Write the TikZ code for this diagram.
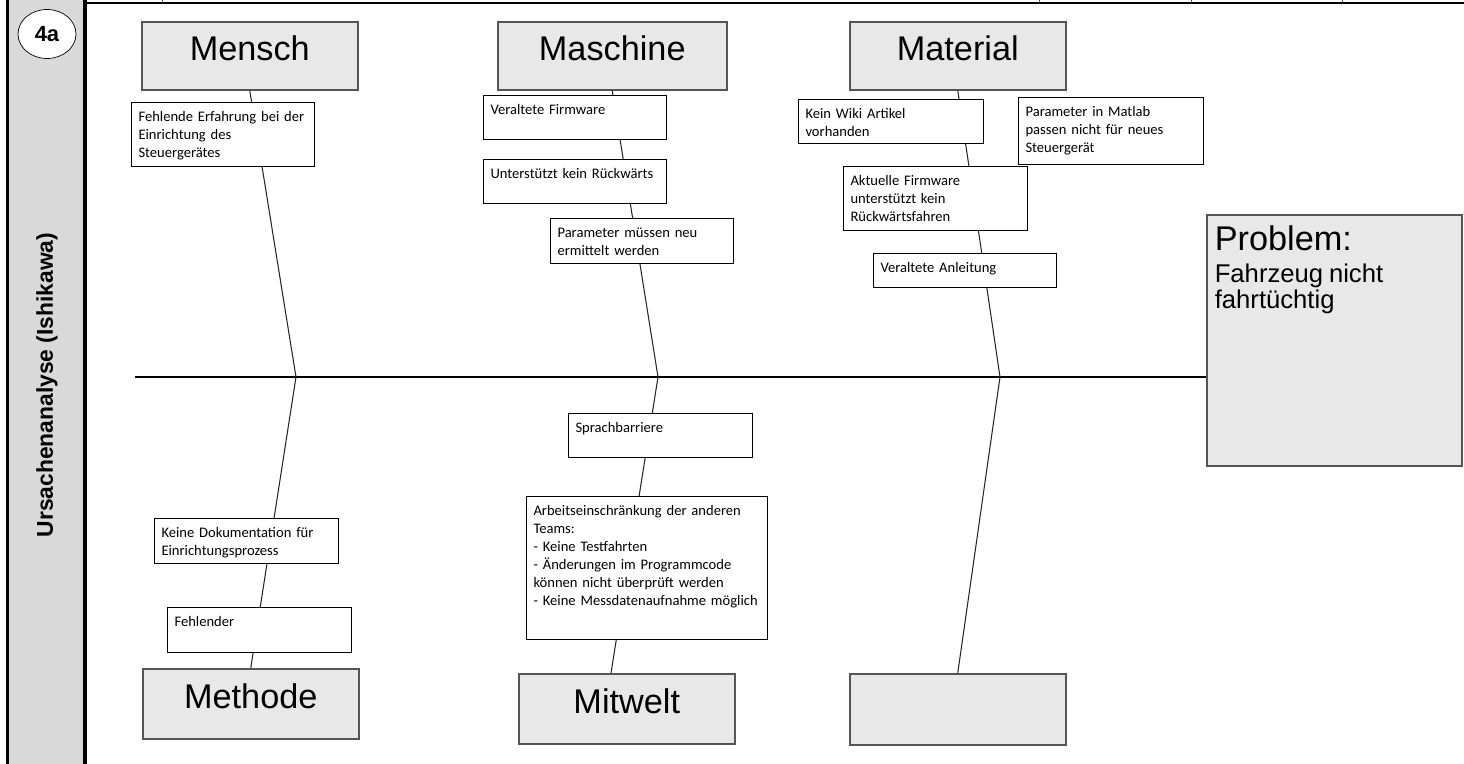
\documentclass[tikz,border=0pt]{standalone}
\usepackage{fontspec}
\setmainfont{Liberation Sans}
\newfontfamily\causefont{Carlito}
\usetikzlibrary{shapes.geometric}
\definecolor{boxGrey}{RGB}{232,232,232}
\definecolor{barGrey}{RGB}{217,217,217}
\definecolor{edgeGrey}{RGB}{85,85,85}

\begin{document}
\begin{tikzpicture}[x=0.02cm, y=-0.02cm,
   cat/.style={draw=edgeGrey, fill=boxGrey, line width=0.9pt, anchor=north west,
             inner sep=0pt, minimum width=4.32cm, minimum height=1.36cm,
             text height=0.52cm, text depth=0.32cm,
             font=\fontsize{19.5pt}{22pt}\selectfont},
   cause/.style={draw, fill=white, line width=0.6pt, anchor=north west, align=left,
             inner xsep=0.14cm, inner ysep=0.16cm, text width=3.4cm, text height=0.22cm,
             font=\causefont\fontsize{8.3pt}{10.2pt}\selectfont},
   bone/.style={draw=black!85, line width=0.6pt}]

  \useasboundingbox (0,0) rectangle (1464,764);

  % ===== Rand links + Kopfzeile =====
  \draw[line width=2pt, fill=barGrey] (7.5,-20) rectangle (85,800);
  \draw[line width=1.6pt] (85,3) -- (1480,3);
  \foreach \x in {162,1039,1191,1342}
    \draw[line width=0.4pt, black!70] (\x,-5) -- (\x,3);
  \node[draw, fill=white, ellipse, minimum width=1.16cm, minimum height=0.98cm, inner sep=0pt,
        font=\bfseries\fontsize{12.5pt}{14pt}\selectfont] (nummer) at (47,34) {4a};
  \node[rotate=90, font=\bfseries\fontsize{13pt}{15pt}\selectfont] (titel) at (47,385)
        {Ursachenanalyse (Ishikawa)};

  % ===== Gräte + Problem =====
  \coordinate (start) at (135,377);
  \coordinate (j1) at (296,377);
  \coordinate (j2) at (658,377);
  \coordinate (j3) at (1000,377);
  \coordinate (mwTop) at (611,673);
  \node[draw=edgeGrey, fill=boxGrey, line width=0.9pt, anchor=north west, align=left,
        text width=4.78cm, inner xsep=0.16cm, inner ysep=0pt, text height=0.72cm, text depth=4.3cm]
        (problem) at (1206,214)
        {\fontsize{19.5pt}{22pt}\selectfont Problem:\\[2pt]
         \fontsize{14.6pt}{16.2pt}\selectfont Fahrzeug nicht\\ fahrtüchtig};
  \draw[line width=0.6pt] (start) -- (problem.west |- start);

  % ===== Kategorien =====
  \node[cat] (mensch) at (141,21) {Mensch};
  \node[cat, minimum width=4.58cm] (maschine) at (497,21) {Maschine};
  \node[cat] (material) at (849,21) {Material};
  \node[cat, minimum height=1.4cm] (methode) at (142,668) {Methode};
  \node[cat, minimum height=1.4cm] (mitwelt) at (518,673) {Mitwelt};
  \node[cat, minimum height=1.42cm] (leerbox) at (849,673) {};

  % Nebengräten
  \draw[bone] (mensch.south) -- (j1) -- (methode.north);
  \draw[bone] (maschine.south) -- (j2) -- (mwTop);
  \draw[bone] (material.south) -- (j3) -- (leerbox.north);

  % ===== Ursachen oben =====
  \node[cause, text width=3.38cm, text depth=0.74cm] (erfahrung) at (131,102)
        {Fehlende Erfahrung bei der\\ Einrichtung des\\ Steuergerätes};
  \node[cause, text width=3.38cm, text depth=0.34cm] (firmware) at (483,95) {Veraltete Firmware};
  \node[cause, text width=3.38cm, text depth=0.34cm] (rueckwaerts) at (483,159) {Unterstützt kein Rückwärts};
  \node[cause, text width=3.38cm, text depth=0.36cm] (parameter) at (550,218)
        {Parameter müssen neu\\ ermittelt werden};
  \node[cause, text width=3.42cm, text depth=0.34cm] (wiki) at (798,99) {Kein Wiki Artikel\\ vorhanden};
  \node[cause, text width=3.42cm, text depth=0.80cm] (matlab) at (1018,97)
        {Parameter in Matlab\\ passen nicht für neues\\ Steuergerät};
  \node[cause, text width=3.4cm, text depth=0.74cm] (aktuell) at (843,166)
        {Aktuelle Firmware\\ unterstützt kein\\ Rückwärtsfahren};
  \node[cause, text width=3.38cm, text depth=0.14cm] (anleitung) at (873,253) {Veraltete Anleitung};

  % ===== Ursachen unten =====
  \node[cause, text depth=0.34cm] (sprache) at (568,413) {Sprachbarriere};
  \node[cause, text width=4.54cm, text depth=2.32cm] (teams) at (526,496)
        {Arbeitseinschränkung der anderen\\ Teams:\\
         - Keine Testfahrten\\
         - Änderungen im Programmcode\\ können nicht überprüft werden\\
         - Keine Messdatenaufnahme möglich};
  \node[cause, text depth=0.36cm] (doku) at (154,518) {Keine Dokumentation für\\ Einrichtungsprozess};
  \node[cause, text depth=0.36cm] (fehlender) at (167,607) {Fehlender};

\end{tikzpicture}
\end{document}
